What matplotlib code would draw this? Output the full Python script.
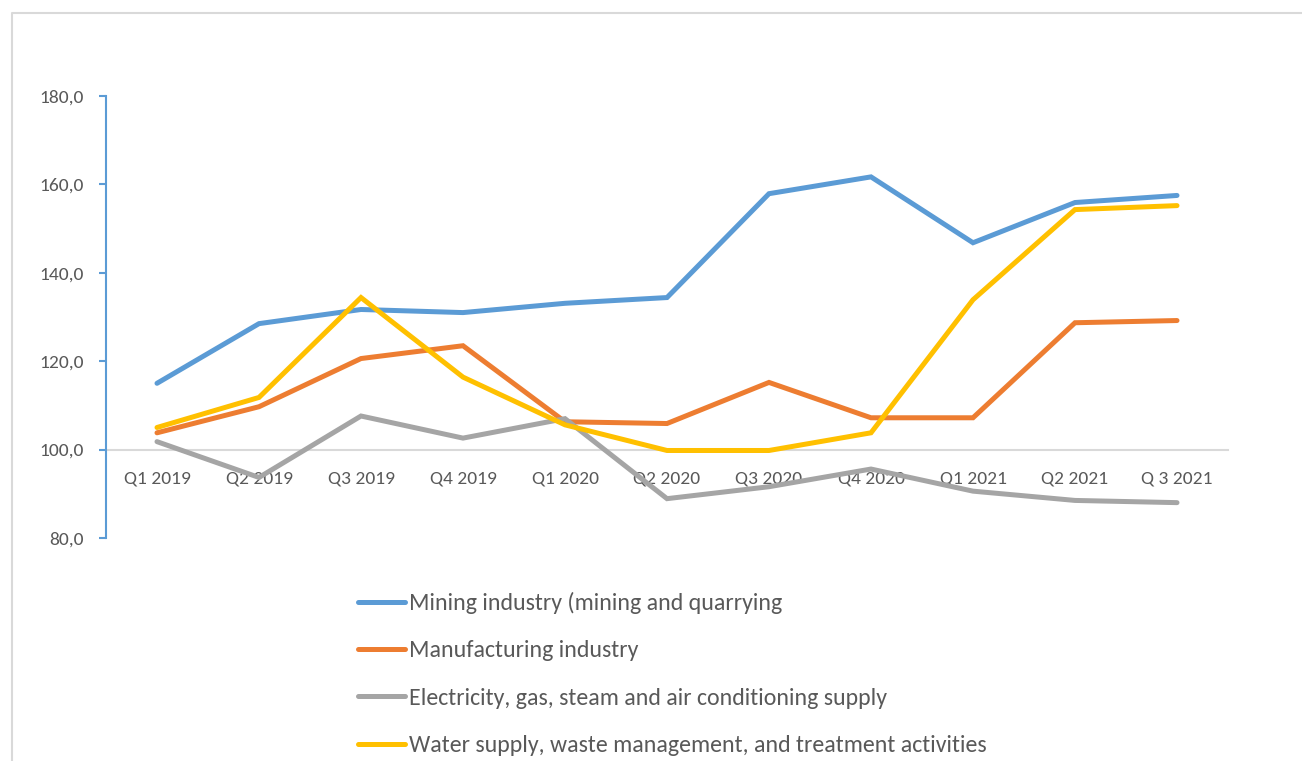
""" Quarterly industrial production indices by sector, 2019-2021.
"""
import matplotlib
matplotlib.use("Agg")
import matplotlib.pyplot as plt
from matplotlib.lines import Line2D

quarters = ["Q1 2019", "Q2 2019", "Q3 2019", "Q4 2019", "Q1 2020", "Q2 2020",
            "Q3 2020", "Q4 2020", "Q1 2021", "Q2 2021", "Q 3 2021"]

mining = [115.0, 128.5, 131.7, 131.0, 133.1, 134.4, 157.9, 161.7, 146.8, 155.9, 157.5]
manufacturing = [103.8, 109.7, 120.6, 123.5, 106.3, 105.9, 115.2, 107.2, 107.2, 128.7, 129.2]
electricity = [101.8, 93.7, 107.6, 102.6, 107.0, 88.9, 91.6, 95.6, 90.6, 88.5, 88.0]
water = [105.0, 111.8, 134.4, 116.4, 105.6, 99.8, 99.8, 103.8, 133.9, 154.3, 155.2]

labels = ["Mining industry (mining and quarrying",
          "Manufacturing industry",
          "Electricity, gas, steam and air conditioning supply",
          "Water supply, waste management, and treatment activities"]
colors = ["#5B9BD5", "#ED7D31", "#A5A5A5", "#FFC000"]

y_ticks = [80, 100, 120, 140, 160, 180]

plt.rcParams["font.family"] = ["Carlito", "Liberation Sans Narrow", "Liberation Sans", "DejaVu Sans"]

fig = plt.figure(figsize=(13.02, 7.61), dpi=100)
ax = fig.add_axes([106 / 1302, 1 - 538 / 761, 1122 / 1302, 442 / 761])

x = [i + 0.5 for i in range(len(quarters))]
for series, label, color in zip([mining, manufacturing, electricity, water], labels, colors):
    ax.plot(x, series, color=color, lw=3.6, label=label,
            solid_capstyle="round", solid_joinstyle="miter")

ax.set_xlim(0, len(quarters))
ax.set_ylim(80, 180)
ax.set_yticks(y_ticks)
ax.set_yticklabels([f"{v:.1f}".replace(".", ",") for v in y_ticks])
ax.set_xticks(x)
ax.set_xticklabels(quarters)

for side in ["top", "right"]:
    ax.spines[side].set_visible(False)
ax.spines["left"].set_color("#5B9BD5")
ax.spines["left"].set_linewidth(1.5)
ax.spines["bottom"].set_position(("data", 100))
ax.spines["bottom"].set_color("#D9D9D9")
ax.spines["bottom"].set_linewidth(1.5)
ax.spines["bottom"].set_zorder(0)

ax.tick_params(axis="y", colors="#5B9BD5", length=5, width=1.5, pad=11,
               labelcolor="#595959", labelsize=14)
ax.tick_params(axis="x", length=0, pad=15, labelcolor="#595959", labelsize=14)

leg = fig.legend(loc="upper left", bbox_to_anchor=(358 / 1302, 1 - 592 / 761),
                 frameon=False, fontsize=17.2, handlelength=1.95, handletextpad=0.17,
                 labelspacing=1.1, borderpad=0, borderaxespad=0)
for text in leg.get_texts():
    text.set_color("#595959")

# chart area border (only top and left visible in the crop)
fig.add_artist(Line2D([12 / 1302, 12 / 1302, 1], [0, 1 - 13 / 761, 1 - 13 / 761],
                      transform=fig.transFigure, color="#D9D9D9", lw=1.5))

fig.savefig("out.png", dpi=100)
